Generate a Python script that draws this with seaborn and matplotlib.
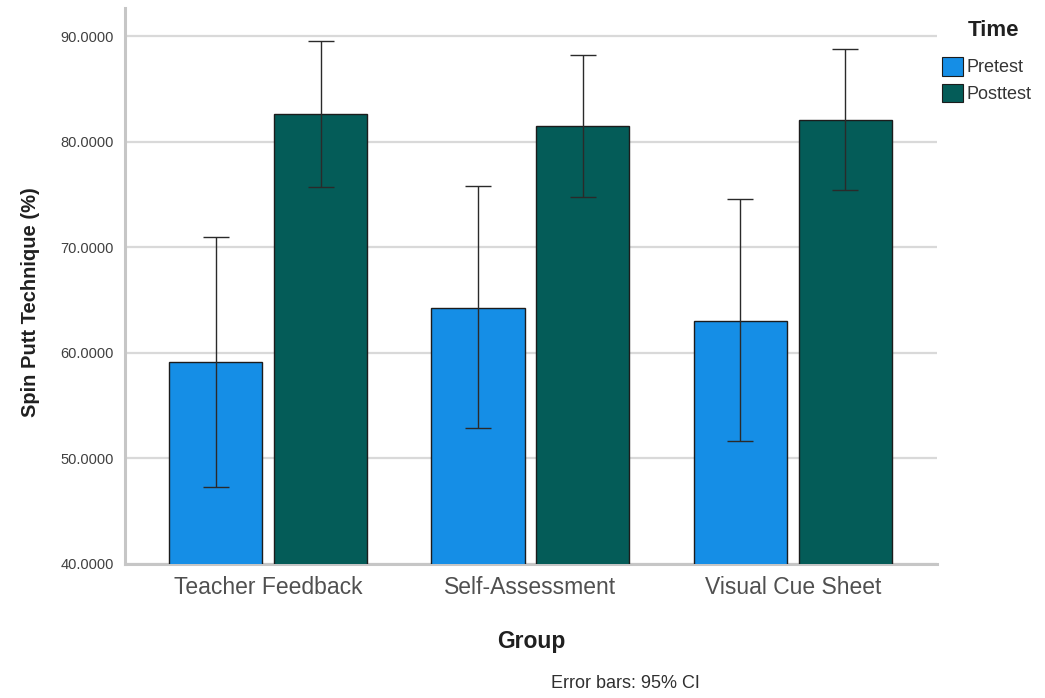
import matplotlib
matplotlib.use("Agg")
import matplotlib.pyplot as plt
from matplotlib.ticker import FormatStrFormatter
from matplotlib.patches import Patch
import seaborn as sns
import pandas as pd

# Group means and 95% confidence limits of spin putt technique
groups = ["Teacher Feedback", "Self-Assessment", "Visual Cue Sheet"]
times = ["Pretest", "Posttest"]
pretest_mean = [59.1, 64.2, 63.0]
pretest_lo = [47.3, 52.9, 51.6]
pretest_hi = [71.0, 75.8, 74.6]
posttest_mean = [82.6, 81.5, 82.0]
posttest_lo = [75.7, 74.8, 75.4]
posttest_hi = [89.5, 88.2, 88.8]

palette = {"Pretest": "#158ee6", "Posttest": "#045c58"}

df = pd.DataFrame({
    "Group": groups * 2,
    "Time": ["Pretest"] * 3 + ["Posttest"] * 3,
    "Score": pretest_mean + posttest_mean,
    "Lo": pretest_lo + posttest_lo,
    "Hi": pretest_hi + posttest_hi,
})

sns.set_theme(style="white")
plt.rcParams["font.family"] = ["Liberation Sans", "DejaVu Sans"]

fig = plt.figure(figsize=(10.45, 6.98), dpi=100)
ax = fig.add_axes([0.1196, 0.192, 0.7771, 0.7965])

sns.barplot(data=df, x="Group", y="Score", hue="Time", order=groups,
            hue_order=times, palette=palette, saturation=1, errorbar=None,
            width=0.8, gap=0.114, edgecolor="#1c1c1c", linewidth=1.0,
            legend=False, ax=ax, zorder=3)

# Confidence intervals centred on each bar
for container, t in zip(ax.containers, times):
    sub = df[df["Time"] == t].set_index("Group").loc[groups]
    xs = [p.get_x() + p.get_width() / 2 for p in container.patches]
    ax.errorbar(xs, sub["Score"].values,
                yerr=[sub["Score"].values - sub["Lo"].values,
                      sub["Hi"].values - sub["Score"].values],
                fmt="none", ecolor="#2a2a2a", elinewidth=1.0,
                capsize=9.5, capthick=1.0, zorder=4)

ax.set_ylim(40, 92.65)
ax.set_xlim(-0.545, 2.549)
ax.set_yticks([40, 50, 60, 70, 80, 90])
ax.yaxis.set_major_formatter(FormatStrFormatter("%.4f"))
ax.yaxis.grid(True, color="#d9d9d9", linewidth=1.6, zorder=0)
ax.set_axisbelow(True)

for side in ["top", "right"]:
    ax.spines[side].set_visible(False)
for side in ["left", "bottom"]:
    ax.spines[side].set_color("#c6c6c6")
    ax.spines[side].set_linewidth(2.2)

ax.tick_params(axis="y", labelsize=10.5, labelcolor="#404040", length=0, pad=8)
ax.tick_params(axis="x", labelsize=16.5, labelcolor="#505050", length=0, pad=9)

ax.set_xlabel("Group", fontsize=16.5, fontweight="bold", color="#202020", labelpad=22)
ax.set_ylabel("Spin Putt Technique (%)", fontsize=14.5, fontweight="semibold",
              color="#202020")
ax.yaxis.set_label_coords(-0.105, 0.471)

# Legend: bold title plus two colour swatches
fig.text(994 / 1045, 1 - 31 / 698, "Time", fontsize=16, fontweight="bold",
         color="#202020", ha="center", va="center")
handles = [Patch(facecolor=palette[t], edgecolor="#1c1c1c", linewidth=0.8) for t in times]
leg = fig.legend(handles, times, loc="upper left",
                 bbox_to_anchor=(942 / 1045, 1 - 57 / 698), frameon=False,
                 fontsize=13, handlelength=1.15, handleheight=1.2,
                 handletextpad=0.2, labelspacing=0.4, borderaxespad=0.0,
                 borderpad=0.0)
for txt in leg.get_texts():
    txt.set_color("#353535")

fig.text(625 / 1045, 1 - 683 / 698, "Error bars: 95% CI", fontsize=13,
         color="#303030", ha="center", va="center",
         family=["Liberation Sans Narrow", "Liberation Sans", "DejaVu Sans"])

fig.savefig("out.png", dpi=100)
